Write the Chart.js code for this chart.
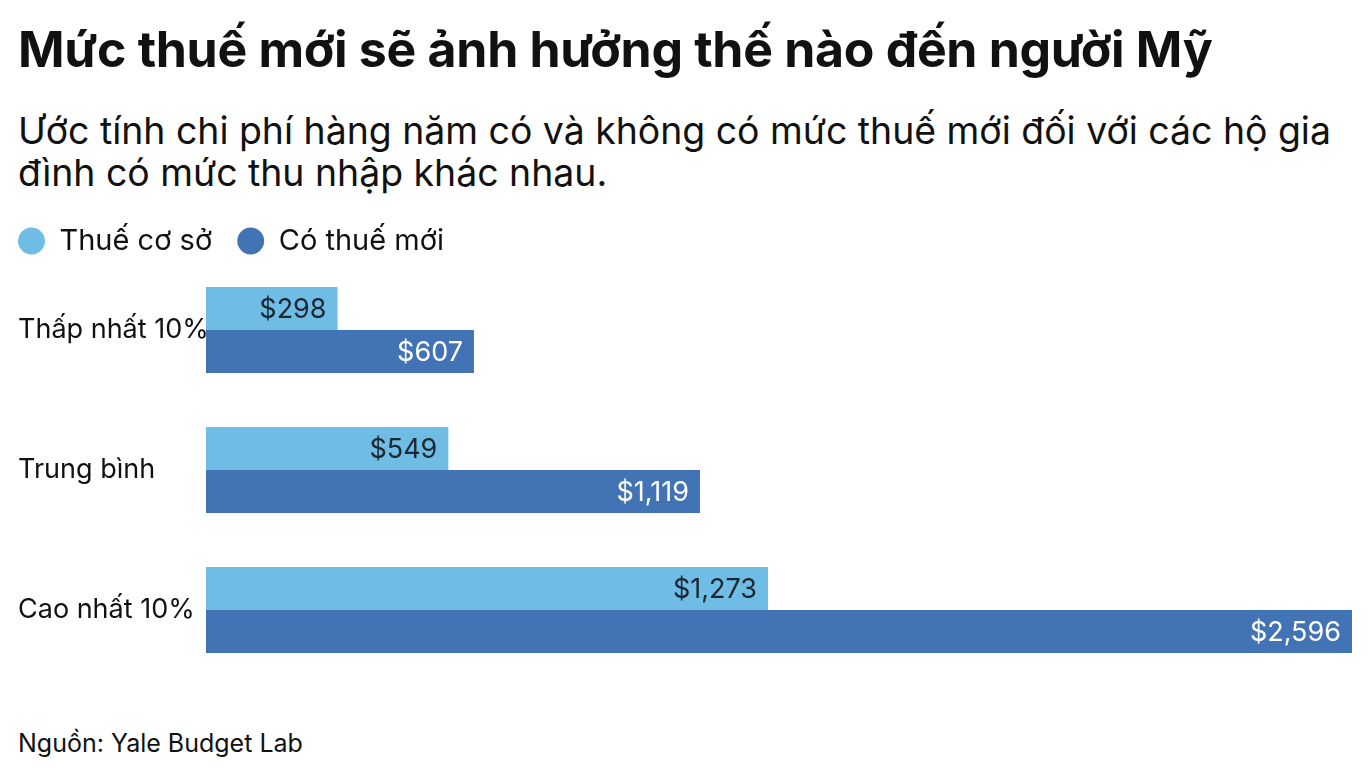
<!DOCTYPE html>
<html>
<head>
<meta charset="utf-8">
<script src="https://cdn.jsdelivr.net/npm/chart.js@4/dist/chart.umd.min.js"></script>
<style>
  body { margin: 0; background: #fff; font-family: Inter, "Noto Sans", sans-serif; color: #111; }
  #wrap { position: relative; width: 1372px; height: 784px; overflow: hidden; }
  .txt { position: absolute; left: 18px; white-space: nowrap; }
  #title { top: 20px; font-size: 50px; line-height: 58px; font-weight: 700; letter-spacing: -0.3px; }
  #subtitle { top: 110px; font-size: 37.4px; line-height: 42px; font-weight: 400; }
  #source { top: 728px; font-size: 25px; line-height: 30px; }
  #chartBox { position: absolute; left: 0; top: 196px; width: 1372px; height: 504px; }
</style>
</head>
<body>
<div id="wrap">
  <div id="title" class="txt">Mức thuế mới sẽ ảnh hưởng thế nào đến người Mỹ</div>
  <div id="subtitle" class="txt">Ước tính chi phí hàng năm có và không có mức thuế mới đối với các hộ gia<br>đình có mức thu nhập khác nhau.</div>
  <div id="chartBox"><canvas id="myChart" width="1372" height="504"></canvas></div>
  <div id="source" class="txt">Nguồn: Yale Budget Lab</div>
</div>
<script>
const categories = ['Thấp nhất 10%', 'Trung bình', 'Cao nhất 10%'];
const baseCost = [298, 549, 1273];
const newTariffCost = [607, 1119, 2596];
const seriesNames = ['Thuế cơ sở', 'Có thuế mới'];

const lightBlue = '#6fbde4';
const darkBlue = '#4273b4';

// move legend into place (chart area and legend share the layout)
const legendShift = {
    id: 'legendShift',
    afterLayout(chart) {
        chart.legend.left -= 25;
        chart.legend.top = 241 - 196 - 25 - 14.5;
    }
};

// value labels at the end of each bar
const barLabels = {
    id: 'barLabels',
    afterDatasetsDraw(chart) {
        const ctx = chart.ctx;
        ctx.save();
        ctx.font = '400 27px Inter';
        ctx.textAlign = 'right';
        ctx.textBaseline = 'middle';
        chart.data.datasets.forEach((ds, i) => {
            const meta = chart.getDatasetMeta(i);
            meta.data.forEach((bar, j) => {
                ctx.fillStyle = i === 0 ? '#1c2733' : '#ffffff';
                ctx.fillText('$' + ds.data[j].toLocaleString('en-US'), bar.x - 11, bar.y + 1);
            });
        });
        ctx.restore();
    }
};

function makeChart() {
    const ctx = document.getElementById('myChart');
    new Chart(ctx, {
        type: 'bar',
        data: {
            labels: categories,
            datasets: [{
                label: seriesNames[0],
                data: baseCost,
                backgroundColor: lightBlue,
                barPercentage: 1,
                categoryPercentage: 0.614
            }, {
                label: seriesNames[1],
                data: newTariffCost,
                backgroundColor: darkBlue,
                barPercentage: 1,
                categoryPercentage: 0.614
            }]
        },
        options: {
            indexAxis: 'y',
            responsive: false,
            animation: false,
            layout: { padding: { top: 0, left: 18, right: 20, bottom: 20 } },
            scales: {
                x: {
                    display: false,
                    min: 0,
                    max: 2596
                },
                y: {
                    grid: { display: false },
                    border: { display: false },
                    ticks: {
                        crossAlign: 'far',
                        color: '#111',
                        font: { family: 'Inter', size: 27 }
                    },
                    afterFit(scale) { scale.width = 188; }
                }
            },
            plugins: {
                legend: {
                    position: 'top',
                    align: 'start',
                    labels: {
                        usePointStyle: true,
                        pointStyle: 'circle',
                        boxWidth: 27,
                        boxHeight: 19,
                        padding: 25,
                        color: '#111',
                        font: { family: 'Inter', size: 29 }
                    }
                },
                tooltip: { enabled: false }
            }
        },
        plugins: [legendShift, barLabels]
    });
}

makeChart();
</script>
</body>
</html>
